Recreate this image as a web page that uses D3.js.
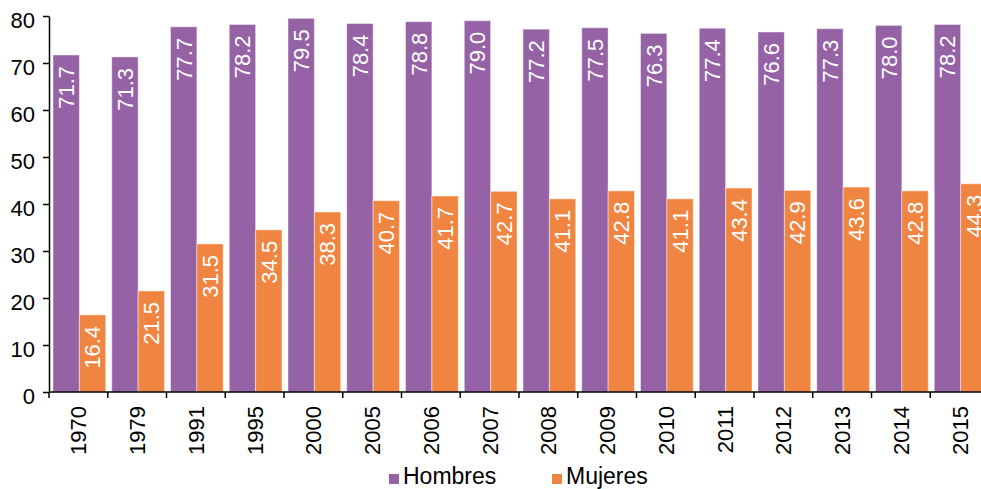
<!DOCTYPE html>
<html>
<head>
<meta charset="utf-8">
<script src="https://cdn.jsdelivr.net/npm/d3@7"></script>
<style>
  body { margin: 0; background: #fff; }
  svg { display: block; font-family: Helvetica, Arial, "Liberation Sans", sans-serif; }
</style>
</head>
<body>
<div id="chart"></div>
<script>
// data
var years = ["1970", "1979", "1991", "1995", "2000", "2005", "2006", "2007",
             "2008", "2009", "2010", "2011", "2012", "2013", "2014", "2015"];
var hombres = [71.7, 71.3, 77.7, 78.2, 79.5, 78.4, 78.8, 79.0,
               77.2, 77.5, 76.3, 77.4, 76.6, 77.3, 78.0, 78.2];
var mujeres = [16.4, 21.5, 31.5, 34.5, 38.3, 40.7, 41.7, 42.7,
               41.1, 42.8, 41.1, 43.4, 42.9, 43.6, 42.8, 44.3];
var seriesNames = ["Hombres", "Mujeres"];
var seriesColors = ["#9562a6", "#f08542"];
var yTicks = [0, 10, 20, 30, 40, 50, 60, 70, 80];

var width = 981, height = 489;
var marginLeft = 49, plotTop = 16, plotBottom = 392;
var step = 58.75;

var svg = d3.select("#chart").append("svg")
	.attr("width", width)
	.attr("height", height);

// the plot runs past the right edge, as in the picture
var x = d3.scaleBand()
	.domain(years)
	.range([marginLeft, marginLeft + step * years.length])
	.padding(0);

var xs = d3.scaleBand()
	.domain(seriesNames)
	.range([4, step - 2])
	.padding(0);

var y = d3.scaleLinear()
	.domain([0, 80])
	.range([plotBottom, plotTop]);

var rows = years.map(function(yr, i) {
	return { year: yr, values: [
		{ name: "Hombres", value: hombres[i], color: seriesColors[0] },
		{ name: "Mujeres", value: mujeres[i], color: seriesColors[1] }
	]};
});

var group = svg.append("g").attr("class", "bars")
	.selectAll("g")
	.data(rows)
	.enter().append("g")
	.attr("transform", function(d) { return "translate(" + x(d.year) + ",0)"; });

group.selectAll("rect")
	.data(function(d) { return d.values; })
	.enter().append("rect")
	.attr("x", function(d) { return xs(d.name); })
	.attr("y", function(d) { return y(d.value); })
	.attr("width", xs.bandwidth())
	.attr("height", function(d) { return plotBottom - y(d.value); })
	.attr("fill", function(d) { return d.color; })
	.attr("stroke", "rgba(255,255,255,0.45)")
	.attr("stroke-width", 1);

// value labels inside the top of each bar
group.selectAll("text")
	.data(function(d) { return d.values; })
	.enter().append("text")
	.attr("transform", function(d) {
		return "translate(" + (xs(d.name) + xs.bandwidth() / 2) + "," + (y(d.value) + 11) + ") rotate(-90)";
	})
	.attr("text-anchor", "end")
	.attr("dy", "0.36em")
	.attr("fill", "#fff")
	.style("font-size", "22px")
	.text(function(d) { return d.value.toFixed(1); });

// y axis
var yAxis = svg.append("g")
	.attr("transform", "translate(" + marginLeft + ",0)")
	.call(d3.axisLeft(y).tickValues(yTicks).tickSize(6).tickPadding(8).tickSizeOuter(0));
yAxis.select(".domain").attr("stroke", "#000").attr("stroke-width", 1.5);
yAxis.selectAll(".tick line").attr("stroke", "#000").attr("stroke-width", 1.5);
yAxis.selectAll(".tick text")
	.attr("dy", "0.5em")
	.attr("fill", "#000")
	.style("font-size", "22px")
	.style("font-family", "Helvetica, Arial, 'Liberation Sans', sans-serif");

// x axis: ticks between categories, labels at centres
svg.append("line")
	.attr("x1", marginLeft).attr("x2", width)
	.attr("y1", plotBottom).attr("y2", plotBottom)
	.attr("stroke", "#000").attr("stroke-width", 1.5);

svg.append("g").selectAll("line")
	.data(years)
	.enter().append("line")
	.attr("x1", function(d) { return x(d); })
	.attr("x2", function(d) { return x(d); })
	.attr("y1", plotBottom).attr("y2", plotBottom + 6)
	.attr("stroke", "#000").attr("stroke-width", 1.5);

svg.append("g").selectAll("text")
	.data(years)
	.enter().append("text")
	.attr("transform", function(d) {
		return "translate(" + (x(d) + x.bandwidth() / 2) + "," + (plotBottom + 14) + ") rotate(-90)";
	})
	.attr("text-anchor", "end")
	.attr("dy", "0.36em")
	.attr("fill", "#000")
	.style("font-size", "22px")
	.text(function(d) { return d; });

// legend
var legendX = [389, 552];
var legend = svg.append("g").selectAll("g")
	.data(seriesNames)
	.enter().append("g")
	.attr("transform", function(d, i) { return "translate(" + legendX[i] + ",474)"; });

legend.append("rect")
	.attr("width", 10).attr("height", 10)
	.attr("fill", function(d, i) { return seriesColors[i]; });

legend.append("text")
	.attr("x", 14)
	.attr("y", 10)
	.attr("fill", "#000")
	.style("font-size", "23px")
	.text(function(d) { return d; });
</script>
</body>
</html>
